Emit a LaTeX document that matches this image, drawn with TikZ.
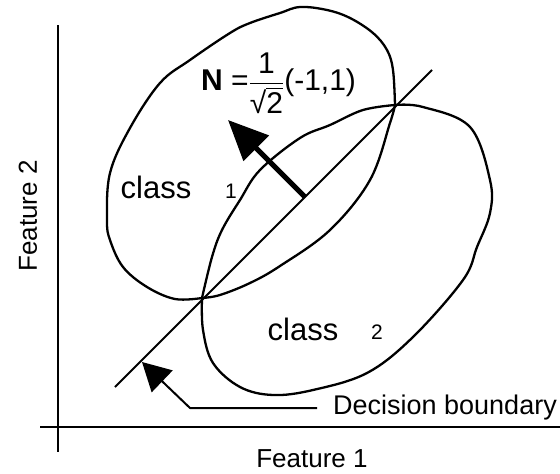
\documentclass[tikz,border=0pt]{standalone}
\usepackage{fontspec}
\usepackage{amsmath}
\setmainfont{Liberation Sans}
\usetikzlibrary{arrows.meta}
\begin{document}
\begin{tikzpicture}[x=1pt, y=-1pt,
  axis/.style={line width=2pt},
  blob/.style={line width=2.3pt, line join=round},
  lbl/.style={font=\fontsize{26}{30}\selectfont, inner sep=0pt},
  cls/.style={font=\fontsize{31}{36}\selectfont, inner sep=0pt},
  idx/.style={font=\fontsize{21}{25}\selectfont, inner sep=0pt},
  normal/.style={line width=5pt, -{Triangle[length=40pt, width=35pt]}},
  pointer/.style={line width=2pt, line join=round, -{Triangle[length=28pt, width=30pt]}}]
\useasboundingbox (0,0) rectangle (560,474);
% axes
\draw[axis] (58,25) -- (58,452);
\draw[axis] (40,427) -- (560,427);
\node[lbl] (f1) at (312,459) {Feature 1};
\node[lbl, rotate=90] (f2) at (28,216) {Feature 2};
% crossing points
\coordinate (top) at (395,105);
\coordinate (bot) at (202,298);
% class 1
\draw[blob] plot[smooth, tension=0.6] coordinates {(bot) (175,299) (147,287) (123,267) (110,240) (107,220)
  (110,173) (130,128) (160,83) (190,60) (230,33) (250,23) (280,13) (300,7) (327,10) (350,18)
  (373,33) (387,50) (393,70) (top)};
\draw[blob] plot[smooth, tension=0.6] coordinates {(top) (390,123) (370,180) (330,230) (280,266)
  (250,283) (220,295) (bot)};
% class 2
\draw[blob] plot[smooth, tension=0.6] coordinates {(top) (423,107) (470,127) (490,180) (490,213)
  (477,247) (463,280) (413,337) (367,373) (313,390) (273,395) (240,387) (213,363) (203,330) (bot)};
\draw[blob] plot[smooth, tension=0.6] coordinates {(bot) (212,257) (222,230) (240,200) (260,170)
  (300,138) (330,125) (363,110) (top)};
\node[cls] (c1) at (156,187.5) {class};
\node[idx] (i1) at (231,191) {1};
\node[cls] (c2) at (303,329.7) {class};
\node[idx] (i2) at (377,332.5) {2};
% decision boundary
\coordinate (dlo) at (115,387);
\coordinate (dhi) at (432,70);
\draw[line width=2pt] (dlo) -- (dhi);
% normal vector
\coordinate (nfoot) at (305,197);
\coordinate (ntip) at (228,120);
\draw[normal] (nfoot) -- (ntip);
\node[font=\fontsize{30}{34}\selectfont, inner sep=0pt, anchor=base west] (nlab) at (201,90)
  {\textbf{N} =$\dfrac{\text{1}}{\text{√}\overline{\text{2}}}$(-1,1)};
% label
\node[lbl, font=\fontsize{27}{31}\selectfont, anchor=west, inner xsep=16pt] (db) at (317,408) {Decision boundary};
\coordinate (bend) at (190,408);
\coordinate (onl) at (142,362);
\draw[pointer] (db.west) -- (bend) -- (onl);
\end{tikzpicture}
\end{document}
